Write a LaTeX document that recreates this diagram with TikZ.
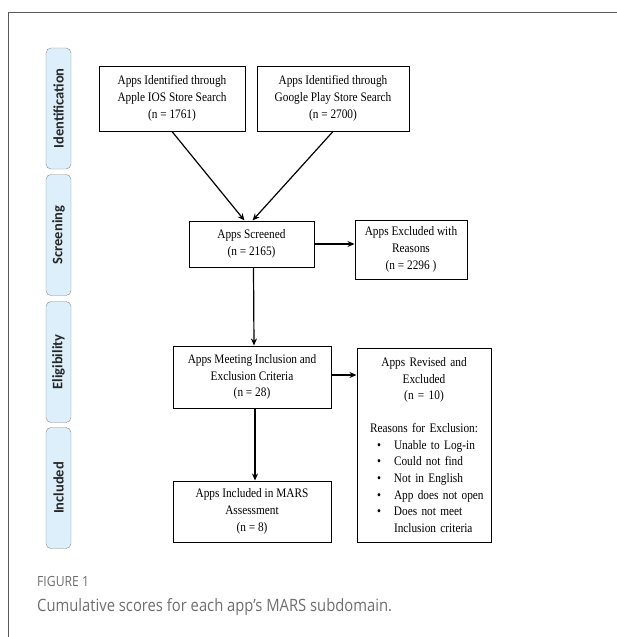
\documentclass[tikz,border=0pt]{standalone}
\usepackage{fontspec}
\setmainfont{Liberation Serif}[FakeStretch=0.87]
\newfontfamily\tabfont{Carlito}
\newfontfamily\capfont{Open Sans}[FakeStretch=0.87]
\usetikzlibrary{arrows.meta}
\definecolor{tabblue}{HTML}{DDEFFA}
\definecolor{tabline}{HTML}{8A8A8A}
\definecolor{capgray}{HTML}{6E6E6E}
\definecolor{framegray}{HTML}{5A5A5A}
\tikzstyle{stage} = [rectangle, rounded corners=5pt, draw=tabline, fill=tabblue, minimum width=121pt, minimum height=25pt, rotate=90, text=black!85, font=\tabfont\bfseries\fontsize{14.5}{16}\selectfont]
\tikzstyle{process} = [rectangle, draw=black, line width=1pt, align=center, inner sep=0pt, font=\fontsize{13}{16.7}\selectfont]
\tikzstyle{arrow} = [line width=1.2pt,->,>={Stealth[length=7pt,width=6pt]}]
\tikzstyle{caption} = [anchor=base west, inner sep=0pt, text=capgray]

\begin{document}
\begin{tikzpicture}[x=1pt, y=-1pt]
    \useasboundingbox (0,0) rectangle (617,637);

    % Frame
    \draw [framegray, line width=1pt] (8.5,637) -- (8.5,12.5) -- (617,12.5);

    % Stages
    \node (ident) [stage] at (58.5,108.5) {Identification};
    \node (screen) [stage] at (58.5,235) {Screening};
    \node (elig) [stage] at (58.5,362) {Eligibility};
    \node (incl) [stage] at (58.5,488) {Included};

    % Nodes
    \node (apple) [process, minimum width=146pt, minimum height=65pt] at (172,98.5) {Apps Identified through\\Apple IOS Store Search\\(n = 1761)};
    \node (google) [process, minimum width=152pt, minimum height=65pt] at (333,98.5) {Apps Identified through\\Google Play Store Search\\(n = 2700)};
    \node (screened) [process, minimum width=125pt, minimum height=46pt] at (251.5,244) {Apps Screened\\(n = 2165)};
    \node (excluded) [process, minimum width=112pt, minimum height=59pt] at (411,249.5) {Apps Excluded with\\Reasons\\(n = 2296 )};
    \node (meeting) [process, minimum width=158pt, minimum height=62pt] at (252,377) {Apps Meeting Inclusion and\\Exclusion Criteria\\(n = 28)};
    \node (revised) [process, text width=134pt, minimum height=194pt, align=left] at (424,445) {{\centering Apps Revised and\\Excluded\\(n = 10)\\[16pt]Reasons for Exclusion:\par}
        \hspace*{20pt}\makebox[17pt][l]{\textbullet}Unable to Log-in\\
        \hspace*{20pt}\makebox[17pt][l]{\textbullet}Could not find\\
        \hspace*{20pt}\makebox[17pt][l]{\textbullet}Not in English\\
        \hspace*{20pt}\makebox[17pt][l]{\textbullet}App does not open\\
        \hspace*{20pt}\makebox[17pt][l]{\textbullet}Does not meet\\
        \hspace*{37pt}Inclusion criteria};
    \node (included) [process, minimum width=158pt, minimum height=61pt] at (252,511.5) {Apps Included in MARS\\Assessment\\(n = 8)};

    % Arrows
    \draw [arrow] (apple.south) -- ([xshift=-7pt]screened.north);
    \draw [arrow] (google.south) -- ([xshift=1pt]screened.north);
    \draw [arrow] (screened.east) -- (screened.east -| excluded.west);
    \draw [arrow] ([xshift=2pt]screened.south) -- ([xshift=2pt]meeting.north);
    \draw [arrow] ([yshift=2pt]meeting.east) -- ([yshift=2pt]meeting.east -| revised.west);
    \draw [arrow] ([xshift=3pt]meeting.south) -- ([xshift=3pt]included.north);

    % Caption
    \node (figlabel) [caption, font=\capfont\fontsize{14}{16}\selectfont] at (37,586) {FIGURE 1};
    \node (figtext) [caption, font=\capfont\fontsize{17}{20}\selectfont] at (37,611) {Cumulative scores for each app’s MARS subdomain.};

\end{tikzpicture}
\end{document}
